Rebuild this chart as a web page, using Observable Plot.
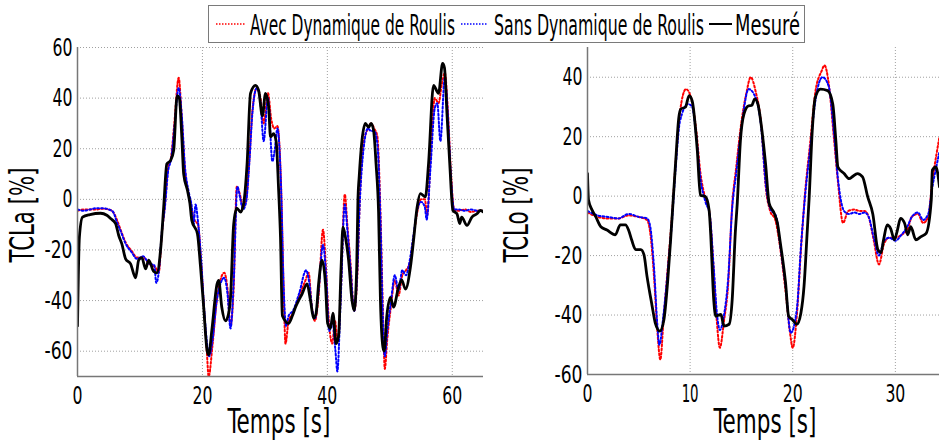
<!DOCTYPE html>
<html><head><meta charset="utf-8">
<script src="https://cdn.jsdelivr.net/npm/d3@7"></script>
<script src="https://cdn.jsdelivr.net/npm/@observablehq/plot@0.6"></script>
<style>
body{margin:0;background:#fff;}
#wrap{position:relative;width:939px;height:442px;overflow:hidden;background:#fff;}
#wrap > svg{position:absolute;top:0;overflow:visible;}
#legend{position:absolute;left:208px;top:5px;width:597px;height:38px;box-sizing:border-box;border:1px solid #7a7a7a;background:#fff;z-index:5;}
#legend svg{display:block;}
</style></head><body><div id="wrap"><div id="legend"></div></div>
<script>
// ---------- data ----------
const seriesNames = ["Avec Dynamique de Roulis", "Sans Dynamique de Roulis", "Mesuré"];
const seriesColors = ["#ff0000", "#0000ff", "#000000"];

// Left panel : TCLa [%] vs Temps [s]
const tclaXTicks = [0, 20, 40, 60];
const tclaYTicks = [-60, -40, -20, 0, 20, 40, 60];
const tclaMesure = [[0,-50],[0.3,-15],[0.8,-7],[2,-6],[3.7,-5.5],[4.7,-6.3],[5.3,-7.6],[6.1,-9.6],[6.6,-14.3],[7.1,-17.6],[7.7,-23.5],[8.5,-25.5],[9.3,-31],[9.8,-24],[10.3,-23],[10.9,-27.5],[11.4,-24],[12.2,-28.5],[12.7,-29],[13.3,-20],[13.8,-3],[14.3,14],[14.9,15.4],[15.4,19.4],[15.95,41],[16.3,40],[16.7,24.7],[17,10],[17.6,3.6],[18,-1.7],[18.3,-8.3],[19.2,-13.6],[19.7,-26.8],[20.2,-42.6],[20.75,-59.8],[21,-61.4],[21.5,-51.9],[22.35,-33.4],[22.6,-32],[23.1,-42.6],[23.7,-48],[24.2,-45],[24.5,-38.7],[25,-10],[25.5,-3.5],[26.1,-5],[26.6,-1.7],[27.15,14],[27.7,41.9],[28.5,45],[29,43],[29.6,33],[30.1,41.9],[30.6,36.6],[30.9,24.7],[31.4,26],[31.8,23],[32.2,3.6],[32.5,-15],[32.8,-46],[33.8,-49],[34.4,-46],[34.9,-42.6],[35.4,-40],[35.95,-37.4],[36.75,-33.4],[37.3,-40],[37.8,-47],[38.2,-45],[38.6,-33.4],[39.15,-24],[39.7,-33.4],[40.05,-49],[40.5,-51],[40.9,-45],[41.4,-57],[41.8,-54],[42.2,-26.8],[42.5,-11],[42.9,-15],[43.4,-24],[43.95,-40],[44.3,-44],[44.7,-26.8],[44.9,0],[45.1,9],[45.55,23.4],[46.1,30],[46.6,28.5],[47,30],[47.4,27.3],[47.8,14],[48.2,-5],[48.5,-40],[48.9,-58.5],[49.1,-60],[49.5,-46.6],[50.1,-38.7],[50.6,-42.6],[51.4,-34.7],[51.9,-31.8],[52.5,-35.5],[53.3,-26.8],[53.8,-16.2],[54.35,-3.5],[54.9,2.3],[55.7,1],[56.2,14],[57,45],[57.8,41.9],[58.45,53.7],[58.75,52],[59.15,34],[59.6,14],[60.1,-4.4],[60.75,-5.7],[61.2,-9.6],[61.5,-7],[62.35,-10.3],[63.15,-7],[63.95,-5.7],[64.5,-4.4],[65,-5]];
const tclaAvec = [[0,-4.5],[1,-4],[2,-4],[3,-4],[4,-3.7],[5,-4],[5.7,-5],[6.3,-8],[6.9,-12],[7.7,-17],[8.7,-20.5],[9.5,-23],[10.5,-23],[11.5,-25.5],[12.5,-27],[13,-29],[13.5,-14],[14,-2],[14.5,12],[15,17],[15.5,30],[16.2,48],[16.7,32],[17.2,12],[17.8,2],[18.3,-4],[18.7,-8],[19.3,-10],[19.8,-25],[20.3,-45],[20.7,-60],[21,-70],[21.6,-58],[22.3,-40],[23.5,-29],[24,-35],[24.5,-50],[25,-35],[25.5,5],[26,2],[26.5,-3],[27,0],[27.5,15],[28,35],[28.7,44],[29.3,40],[29.8,30],[30.5,42],[31,32],[31.5,28],[32,29],[32.6,5],[33,-35],[33.3,-57],[33.8,-48],[34.5,-45],[35.5,-38],[36.5,-32],[37,-29],[37.5,-42],[38,-48],[38.6,-38],[39.3,-12],[39.8,-28],[40.3,-50],[40.8,-57],[41.2,-48],[41.7,-56],[42.1,-40],[42.8,2],[43.2,-10],[43.7,-25],[44.3,-44],[44.8,-30],[45.2,0],[45.8,22],[46.5,28],[47,30],[47.5,28],[48,25],[48.5,-5],[48.9,-45],[49.2,-67],[49.6,-55],[50.2,-42],[50.8,-32],[51.4,-38],[52,-30],[52.6,-28],[53.2,-25],[53.8,-15],[54.4,-5],[55,0],[55.6,0],[56,-6],[56.5,15],[57.2,40],[57.8,38],[58.3,45],[58.8,50],[59.3,35],[59.8,10],[60.3,-4],[61,-4.5],[62,-4],[63,-5],[64,-4.5],[65,-4.5]];
const tclaSans = [[0,-4],[1,-4.5],[2,-4],[3,-3.5],[4,-3.5],[5,-4],[5.7,-5],[6.3,-9],[6.9,-12.5],[7.7,-17.5],[8.7,-21],[9.5,-23.5],[10.5,-22.5],[11.5,-25.5],[12.3,-26],[12.6,-33],[13,-29],[13.5,-13],[14,-3],[14.5,11],[15,16],[15.5,28],[16.2,44],[16.7,33],[17.2,13],[17.8,3],[18.3,-3],[18.6,-10],[18.9,-2],[19.3,-9],[19.8,-24],[20.3,-44],[20.7,-56],[21.1,-62],[21.6,-56],[22.3,-40],[23.5,-31],[24,-37],[24.5,-51],[25,-33],[25.6,5],[26,1],[26.5,-4],[27,-1],[27.5,14],[28,34],[28.7,44],[29.3,38],[29.8,23],[30.5,40],[31.2,15],[31.6,20],[32,28],[32.6,4],[33,-34],[33.4,-50],[33.8,-46],[34.5,-44],[35.5,-37],[36.6,-28],[37.1,-33],[37.6,-44],[38,-47],[38.6,-36],[39.3,-18],[39.8,-30],[40.3,-52],[40.8,-48],[41.3,-60],[41.6,-68],[42.1,-42],[42.8,-2],[43.2,-12],[43.7,-27],[44.3,-44],[44.8,-28],[45.2,-1],[45.8,20],[46.5,28],[47,27],[47.5,27],[48,22],[48.5,-8],[48.9,-48],[49.2,-62],[49.6,-52],[50.2,-40],[50.8,-30],[51.4,-36],[52,-28],[52.6,-30],[53.2,-24],[53.8,-14],[54.4,-4],[55,-1],[55.6,-3],[55.9,-8],[56.5,12],[57.2,36],[57.6,38],[58.1,23],[58.8,48],[59.3,33],[59.8,8],[60.3,-4],[61,-4],[62,-4.5],[63,-4],[64,-4.5],[65,-4.5]];

// Right panel : TCLo [%] vs Temps [s]
const tcloXTicks = [0, 10, 20, 30];
const tcloYTicks = [-60, -40, -20, 0, 20, 40];
const tcloMesure = [[0,7.6],[0.1,-1.3],[0.45,-4.7],[0.8,-6.9],[1.3,-10.3],[1.9,-11.4],[2.7,-13],[3.2,-9.7],[3.7,-9.7],[4,-11.4],[4.3,-14.7],[4.7,-18],[5.2,-18],[5.5,-19.7],[5.8,-27],[6.3,-37],[6.6,-42.6],[7.05,-45.4],[7.45,-41.5],[7.8,-29.2],[8.1,-14.7],[8.35,-1.3],[8.6,12],[8.9,26.5],[9.1,29.3],[9.55,30],[9.9,33.8],[10.2,32],[10.7,15.4],[11,0.3],[11.5,-0.2],[11.85,-4.7],[12,-12.5],[12.3,-34.8],[12.5,-40.4],[13,-39.8],[13.3,-43.7],[13.8,-43.1],[14.1,-34.8],[14.4,-12.5],[14.6,-2],[14.9,18.7],[15.25,27.7],[15.7,30.4],[16,30.5],[16.3,32.7],[16.6,31],[17,22],[17.35,10.9],[17.7,-2.4],[18.2,-5.8],[18.5,-9],[18.8,-16],[19.3,-29.2],[19.6,-40.4],[19.95,-41.5],[20.4,-43.1],[20.8,-39.2],[21.1,-30.3],[21.4,-12.5],[21.6,-0.5],[21.9,22],[22.2,33.2],[22.7,36],[23.4,35.5],[23.9,31],[24.2,18.7],[24.4,9.8],[25,7.6],[25.5,5.9],[25.8,6.5],[26.3,7.6],[26.8,6.5],[27.3,-0.2],[27.8,-6],[28.3,-18],[28.6,-19],[28.85,-14.7],[29.2,-9.7],[29.55,-11],[29.9,-14.7],[30.2,-11.4],[30.5,-7.5],[30.9,-9.1],[31.2,-13],[31.5,-10.3],[32,-14.7],[32.5,-13.6],[33,-12.5],[33.5,-1.3],[33.6,8.7],[33.95,9.8],[34.3,3.1]];
const tcloAvec = [[0,-5.5],[1,-7],[2,-7.5],[3,-7.5],[4,-6.5],[5,-7],[5.8,-8],[6.1,-12],[6.5,-28],[6.8,-45],[7.1,-55],[7.4,-42],[7.8,-25],[8.2,-8],[8.6,12],[9,28],[9.6,36],[10.1,33],[10.6,22],[11,8],[11.5,-1],[11.9,-6],[12.3,-25],[12.6,-42],[12.9,-51],[13.3,-42],[13.7,-30],[14.1,-3],[14.5,10],[15,25],[15.5,35],[15.9,40],[16.4,35],[16.9,25],[17.4,2],[17.8,-5],[18.3,-8],[18.8,-18],[19.3,-32],[19.7,-45],[20,-51],[20.4,-40],[20.8,-18],[21.2,1],[21.7,18],[22.2,35],[22.8,42],[23.1,44],[23.5,38],[24,20],[24.4,5],[24.9,-9],[25.4,-5],[26,-4.5],[26.5,-5],[27,-5],[27.4,-7],[27.9,-15],[28.4,-23],[28.9,-16],[29.4,-14],[30,-14],[30.6,-13],[31.2,-11],[31.6,-7],[32.2,-6],[32.7,-9],[33.2,-7],[33.6,5],[34,14],[34.3,20]];
const tcloSans = [[0,-5],[1,-6.5],[2,-7],[3,-7.5],[4,-6],[5,-7],[5.8,-7.5],[6.1,-10],[6.5,-25],[6.8,-43],[7,-50],[7.4,-40],[7.8,-26],[8.2,-10],[8.6,10],[9,25],[9.8,31],[10.2,30],[10.6,20],[11,6],[11.5,-2],[11.9,-6],[12.3,-24],[12.6,-39],[12.9,-45],[13.3,-40],[13.7,-28],[14.1,-4],[14.5,8],[15,23],[15.7,36],[16.4,33],[16.9,24],[17.4,3],[17.8,-4],[18.4,-7],[18.8,-17],[19.3,-30],[19.8,-46],[20.4,-38],[20.8,-17],[21.2,0],[21.7,16],[22.2,32],[22.9,40],[23.5,37],[24,22],[24.4,6],[25,-5],[25.5,-6],[26,-5.5],[26.5,-6],[27,-5.5],[27.4,-7],[27.9,-14],[28.4,-20],[28.9,-15],[29.4,-14],[30,-15],[30.6,-13],[31.2,-10],[31.6,-7],[32.2,-5.5],[32.7,-8],[33.2,-6],[33.6,3],[34,10],[34.3,15]];

// ---------- drawing ----------
const FONT = "'DejaVu Sans Condensed','Liberation Sans Narrow','Roboto Condensed',sans-serif";
const wrap = document.getElementById("wrap");

function charW(s){let w=0;for(const c of s){w+= c==="-"?8:(c==="1"?7:10);}return w;}

// squeeze a text horizontally to a target width (keeps real text, scales glyphs)
function squeeze(t, target){
  const w = t.getComputedTextLength();
  if (!w) return;
  const sx = target / w;
  const tr = t.getAttribute("transform") || "";
  t.setAttribute("transform", (tr + ` scale(${sx.toFixed(4)},1)`).trim());
}

function panel(o){
  const gridStyle = {stroke:"#a0a0a0", strokeWidth:1, strokeDasharray:"1,2"};
  const svg = Plot.plot({
    width:o.width, height:442,
    marginLeft:o.ml, marginRight:o.mr, marginTop:47, marginBottom:o.mb,
    style:{fontFamily:FONT, background:"transparent", overflow:"visible"},
    x:{domain:o.xDomain}, y:{domain:o.yDomain},
    marks:[
      Plot.ruleX(o.xTicks, gridStyle),
      Plot.ruleY(o.yTicks, gridStyle),
      Plot.line(o.avec, {x:d=>d[0], y:d=>d[1], stroke:seriesColors[0], strokeWidth:2, strokeDasharray:"1.8,2.2", curve:"monotone-x", clip:true}),
      Plot.line(o.sans, {x:d=>d[0], y:d=>d[1], stroke:seriesColors[1], strokeWidth:2, strokeDasharray:"1.8,2.2", curve:"monotone-x", clip:true}),
      Plot.line(o.mesure, {x:d=>d[0], y:d=>d[1], stroke:seriesColors[2], strokeWidth:2.8, curve:"monotone-x", clip:true}),
      Plot.ruleX([o.xDomain[0]], {stroke:"#777", strokeWidth:1.5}),
      Plot.ruleY([o.yDomain[0]], {stroke:"#777", strokeWidth:1.5}),
      Plot.axisX({ticks:o.xTicks, tickSize:0, tickPadding:10, fontSize:25, label:null, tickFormat:d=>`${d}`}),
      Plot.axisY({ticks:o.yTicks, tickSize:0, tickPadding:5, fontSize:25, label:null, tickFormat:d=>`${d}`})
    ]
  });
  svg.style.left = o.left + "px";
  wrap.appendChild(svg);
  svg.querySelectorAll('g[aria-label="x-axis tick label"] text, g[aria-label="y-axis tick label"] text').forEach(t=>{
    t.setAttribute("fill","#000");
    squeeze(t, charW(t.textContent));
  });
  const s = d3.select(svg);
  const xl = s.append("text").attr("transform",`translate(${o.xlx},433)`).attr("text-anchor","middle")
    .attr("font-family",FONT).attr("font-size",33).text("Temps [s]");
  squeeze(xl.node(), 103);
  const yl = s.append("text").attr("transform",`translate(${o.ylx},215) rotate(-90)`).attr("text-anchor","middle")
    .attr("font-family",FONT).attr("font-size",33).text(o.ylabel);
  squeeze(yl.node(), 95);
}

panel({left:0, width:500, ml:77, mr:17, mb:66, xDomain:[0,65], yDomain:[-70,60],
  xTicks:tclaXTicks, yTicks:tclaYTicks, avec:tclaAvec, sans:tclaSans, mesure:tclaMesure,
  xlx:279, ylx:34, ylabel:"TCLa [%]"});
panel({left:500, width:439, ml:87, mr:0, mb:68, xDomain:[0,34.3], yDomain:[-60,50],
  xTicks:tcloXTicks, yTicks:tcloYTicks, avec:tcloAvec, sans:tcloSans, mesure:tcloMesure,
  xlx:265, ylx:28, ylabel:"TCLo [%]"});

// ---------- legend ----------
const lg = d3.select("#legend").append("svg").attr("width",595).attr("height",36);
const entries = [
  {sx0:7, sx1:36, tx:41, tw:205, dash:"1.5,1.5", sw:1.5},
  {sx0:252, sx1:278, tx:285, tw:210, dash:"1.5,1.5", sw:1.5},
  {sx0:500, sx1:523, tx:526, tw:65, dash:null, sw:2}
];
entries.forEach((e,i)=>{
  lg.append("line").attr("x1",e.sx0).attr("x2",e.sx1).attr("y1",18).attr("y2",18)
    .attr("stroke",seriesColors[i]).attr("stroke-width",e.sw).attr("stroke-dasharray",e.dash);
  const t = lg.append("text").attr("transform",`translate(${e.tx},29)`).attr("font-family",FONT).attr("font-size",29)
    .text(seriesNames[i]);
  squeeze(t.node(), e.tw);
});
</script></body></html>
